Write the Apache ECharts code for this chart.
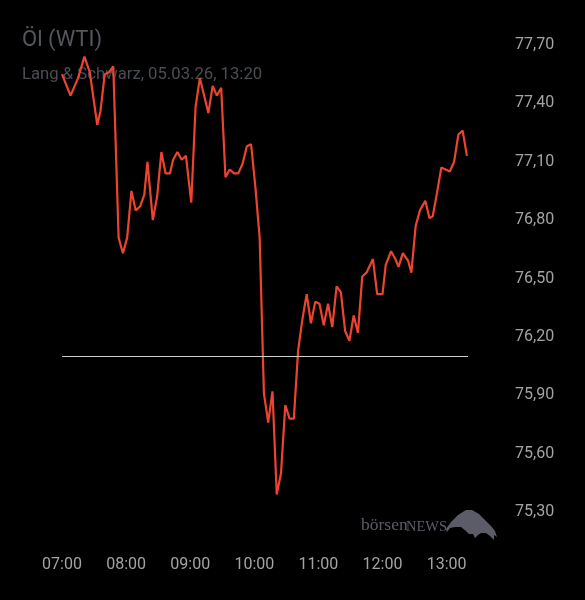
<!DOCTYPE html>
<html>
<head>
<meta charset="utf-8">
<script src="https://cdn.jsdelivr.net/npm/echarts@6/dist/echarts.min.js"></script>
<style>
  html, body { margin: 0; padding: 0; background: #000; }
  #chart { width: 585px; height: 600px; }
</style>
</head>
<body>
<div id="chart"></div>
<script>
// Kursverlauf Öl (WTI), Lang & Schwarz, 05.03.26
const times = [
  '07:00', '07:08', '07:15', '07:21', '07:26', '07:33', '07:36', '07:40', '07:44', '07:48',
  '07:53', '07:57', '08:01', '08:05', '08:09', '08:13', '08:17', '08:20', '08:25', '08:29',
  '08:33', '08:37', '08:41', '08:44', '08:48', '08:52', '08:56', '09:01', '09:05', '09:09',
  '09:17', '09:21', '09:25', '09:29', '09:33', '09:37', '09:41', '09:45', '09:49', '09:53',
  '09:57', '10:01', '10:05', '10:09', '10:13', '10:17', '10:21', '10:25', '10:29', '10:33',
  '10:37', '10:41', '10:45', '10:49', '10:53', '10:57', '11:01', '11:05', '11:09', '11:13',
  '11:17', '11:21', '11:25', '11:29', '11:33', '11:37', '11:41', '11:45', '11:51', '11:55',
  '12:00', '12:03', '12:08', '12:12', '12:15', '12:19', '12:24', '12:27', '12:31', '12:35',
  '12:40', '12:44', '12:47', '12:51', '12:55', '13:03', '13:07', '13:11', '13:15', '13:19'
];
const prices = [
  77.55, 77.44, 77.53, 77.64, 77.56, 77.29, 77.36, 77.55, 77.56, 77.59,
  76.71, 76.63, 76.71, 76.95, 76.85, 76.87, 76.93, 77.10, 76.80, 76.92,
  77.15, 77.04, 77.04, 77.11, 77.15, 77.11, 77.13, 76.89, 77.38, 77.53,
  77.35, 77.49, 77.44, 77.48, 77.02, 77.06, 77.04, 77.04, 77.09, 77.18,
  77.19, 76.97, 76.71, 75.91, 75.76, 75.92, 75.39, 75.50, 75.85, 75.78,
  75.78, 76.13, 76.29, 76.42, 76.27, 76.38, 76.37, 76.26, 76.37, 76.25,
  76.46, 76.43, 76.23, 76.18, 76.31, 76.22, 76.51, 76.53, 76.60, 76.42,
  76.42, 76.57, 76.64, 76.60, 76.56, 76.63, 76.59, 76.53, 76.77, 76.85,
  76.90, 76.81, 76.82, 76.94, 77.07, 77.05, 77.10, 77.24, 77.26, 77.13
];
const prevClose = 76.10;
const xTicks = ['07:00', '08:00', '09:00', '10:00', '11:00', '12:00', '13:00'];
const yTicks = [75.30, 75.60, 75.90, 76.20, 76.50, 76.80, 77.10, 77.40, 77.70];

// Uhrzeit -> Minuten seit 07:00
function toMin (t) {
  const p = t.split(':');
  return (+p[0] - 7) * 60 + (+p[1]);
}
function toTime (m) {
  const h = 7 + Math.floor(m / 60);
  const mm = m % 60;
  return (h < 10 ? '0' : '') + h + ':' + (mm < 10 ? '0' : '') + mm;
}

let myChart = echarts.init(document.getElementById('chart'));
let option = {
  backgroundColor: '#000',
  animation: false,
  textStyle: { fontFamily: 'Roboto' },
  grid: { left: 62, right: 117, top: 45, bottom: 88 },
  xAxis: {
    type: 'value',
    min: toMin(xTicks[0]),
    max: toMin('13:20'),
    interval: 60,
    axisLine: { show: false },
    axisTick: { show: false },
    splitLine: { show: false },
    axisLabel: {
      color: '#a3a3a3',
      fontSize: 16,
      margin: 45,
      showMaxLabel: false,
      formatter: function (v) { return toTime(v); }
    }
  },
  yAxis: {
    type: 'value',
    position: 'right',
    min: yTicks[0],
    max: yTicks[yTicks.length - 1],
    interval: 0.3,
    axisLine: { show: false },
    axisTick: { show: false },
    splitLine: { show: false },
    axisLabel: {
      color: '#a3a3a3',
      fontSize: 16,
      margin: 47,
      formatter: function (v) { return v.toFixed(2).replace('.', ','); }
    }
  },
  graphic: [
    { type: 'text', left: 22, top: 29,
      style: { text: 'Öl (WTI)', fill: '#55575e', fontSize: 22, fontFamily: 'Roboto' } },
    { type: 'text', left: 22, top: 66,
      style: { text: 'Lang & Schwarz, 05.03.26, 13:20', fill: '#4b4d54', fontSize: 16.7, fontFamily: 'Roboto' } },
    // Wasserzeichen
    { type: 'text', left: 361, top: 516,
      style: { text: 'börsen', fill: '#5c5c68', fontSize: 17.5, fontFamily: 'Liberation Serif' } },
    { type: 'text', left: 406, top: 520,
      style: { text: 'NEWS', fill: '#5c5c68', fontSize: 14.5, fontFamily: 'Liberation Serif' } },
    { type: 'polygon', z: 0,
      shape: { points: [[446, 529], [451, 522], [458, 515], [466, 510], [472, 510], [479, 514], [486, 521],
        [491, 526], [495, 531], [497, 537], [494, 535], [494, 540], [490, 536], [486, 533], [481, 533],
        [478, 535], [475, 538], [473, 534], [469, 534], [466, 531], [461, 527], [455, 527], [450, 528], [447, 532]] },
      style: { fill: '#5c5c68' } }
  ],
  series: [{
    type: 'line',
    data: times.map(function (t, i) { return [toMin(t), prices[i]]; }),
    showSymbol: false,
    lineStyle: { color: '#ec4431', width: 2.2 },
    markLine: {
      silent: true,
      symbol: 'none',
      label: { show: false },
      lineStyle: { color: '#cfcfcf', width: 1, type: 'solid' },
      data: [{ yAxis: prevClose }]
    }
  }]
};
myChart.setOption(option);
</script>
</body>
</html>
